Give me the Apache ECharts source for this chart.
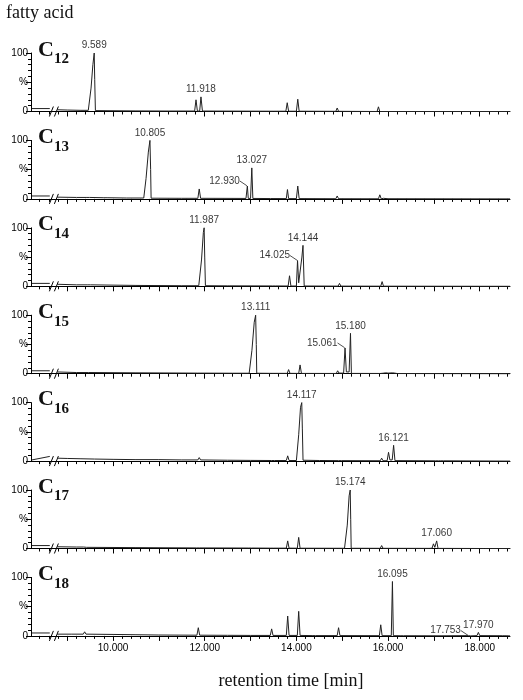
<!DOCTYPE html>
<html>
<head>
<meta charset="utf-8">
<title>fatty acid</title>
<script src="https://cdn.jsdelivr.net/npm/echarts@6/dist/echarts.min.js"></script>
<style>
    html, body { margin: 0; padding: 0; background: #fff; }
    #main { width: 523px; height: 700px; }
</style>
</head>
<body>
<div id="main"></div>
<script>
//色谱数据 [保留时间 min, 强度 %]，null = 断轴处
var c12 = [[8.23,5],[8.62,5],[8.70,null],[8.78,3],[9.0,2.5],[9.3,2],[9.46,2],[9.52,40],[9.56,80],[9.589,100],[9.60,55],[9.615,1.5],
    [10.5,1],[11.2,0.8],[11.78,0.8],[11.81,20],[11.84,0.8],[11.89,0.8],[11.918,25],[11.95,0.8],[13.44,0.5],[13.47,3],[13.50,0.5],
    [13.77,0.5],[13.80,15],[13.83,0.5],[14.00,0.5],[14.03,21],[14.06,0.5],[14.86,0.3],[14.89,6],[14.92,0.3],[15.76,0],[15.79,8],[15.82,0],[18.66,0]];
var c13 = [[8.23,5],[8.62,5],[8.70,null],[8.78,3],[9.2,2.5],[9.43,2.5],[9.46,5],[9.49,2.5],[9.8,2],[9.84,3.5],[9.87,2],[10.3,1.5],
    [10.67,1.5],[10.72,35],[10.77,80],[10.805,100],[10.82,50],[10.83,1.2],[11.5,1],[11.85,1],[11.88,17],[11.91,1],[12.90,0.8],[12.930,22],
    [12.95,0.8],[13.00,0.8],[13.027,53],[13.05,0.8],[13.43,0.6],[13.46,4],[13.49,0.6],[13.78,0.5],[13.805,16],[13.83,0.5],[14.00,0.5],
    [14.03,22],[14.06,0.5],[14.86,0.3],[14.89,5],[14.92,0.3],[15.79,0.2],[15.82,7],[15.85,0.2],[15.9,1],[16.0,0.3],[18.66,0]];
var c14 = [[8.23,5],[8.62,5],[8.70,null],[8.78,3.5],[9.2,2.5],[9.45,2.5],[9.48,4],[9.51,2.5],[10.5,1.5],[11.5,1],[11.87,1],[11.93,45],
    [11.97,92],[11.987,100],[12.0,50],[12.015,1],[12.49,0.8],[12.52,2.5],[12.55,0.8],[13.48,0.6],[13.51,4],[13.54,0.6],[13.82,0.5],
    [13.85,18],[13.88,0.5],[14.00,0.5],[14.025,44],[14.05,6],[14.07,5],[14.12,50],[14.144,70],[14.17,0.5],[14.91,0.3],[14.94,5],
    [14.97,0.3],[15.84,0.2],[15.87,8],[15.90,0.2],[18.66,0]];
var c15 = [[8.23,5],[8.62,5],[8.70,null],[8.78,3],[9.2,2],[9.41,2],[9.44,3.5],[9.47,2],[10.5,1.5],[11.84,1],[11.87,3.5],[11.90,1],
    [12.6,0.8],[12.97,0.8],[13.03,40],[13.08,88],[13.111,100],[13.125,50],[13.135,0.8],[13.46,0.6],[13.49,2.5],[13.52,0.6],[13.80,0.6],
    [13.83,7],[13.86,0.6],[14.05,0.5],[14.08,15],[14.11,0.5],[14.87,0.4],[14.90,5],[14.93,1],[15.03,1],[15.061,44],[15.09,3],[15.15,3],
    [15.180,69],[15.20,0.5],[15.83,0.4],[15.86,3.5],[15.89,0.8],[15.95,1.5],[16.0,1],[16.1,1.5],[16.2,0.3],[18.66,0]];
var c16 = [[8.23,2],[8.62,8],[8.70,null],[8.78,5],[9.0,4.5],[9.3,4],[9.6,3.5],[10.0,3],[10.5,2.5],[11.0,2.5],[11.5,2],[11.85,2],[11.88,6],
    [11.91,2],[12.5,1.5],[13.0,1.2],[13.46,1],[13.49,3],[13.52,1],[13.78,1],[13.81,9],[13.84,1],[14.00,1],[14.05,45],[14.09,92],
    [14.117,100],[14.13,55],[14.145,1.5],[14.5,1],[14.92,0.8],[14.95,2],[14.98,0.8],[15.83,0.6],[15.86,5],[15.89,0.6],[15.98,0.6],
    [16.01,15],[16.04,2],[16.09,2],[16.121,27],[16.15,0.8],[17.04,0.5],[17.07,2.5],[17.10,0.5],[17.15,0.5],[17.18,2.5],[17.21,0.5],[18.66,0]];
var c17 = [[8.23,5],[8.62,5],[8.70,null],[8.78,3],[9.2,2.5],[9.36,2.5],[9.39,4],[9.42,2],[10.5,1.5],[11.82,1],[11.85,3.5],[11.88,1],
    [12.96,0.8],[12.99,2],[13.02,0.8],[13.44,0.6],[13.47,3],[13.50,0.6],[13.78,0.6],[13.81,13],[13.84,0.6],[14.02,0.5],[14.05,19],
    [14.08,0.5],[14.90,0.4],[14.93,3],[14.96,0.4],[15.05,0.4],[15.11,40],[15.15,90],[15.174,100],[15.185,50],[15.195,0.4],[15.83,0.3],
    [15.86,5],[15.89,0.3],[16.9,0.2],[16.93,2],[16.96,0.5],[16.99,8],[17.02,2],[17.060,13],[17.09,0.2],[18.10,0],[18.13,2],[18.16,0],[18.66,0]];
var c18 = [[8.23,5],[8.62,5],[8.70,null],[8.78,3],[9.1,3],[9.35,3],[9.38,7],[9.41,3],[10.0,2.5],[10.5,2],[11.0,1.5],[11.83,1.2],
    [11.86,14],[11.89,1.2],[12.5,1],[13.0,0.8],[13.43,0.8],[13.46,12],[13.49,0.8],[13.78,0.8],[13.81,34],[13.84,0.8],[14.02,0.8],
    [14.05,42],[14.08,0.8],[14.36,0.5],[14.39,2],[14.42,0.5],[14.89,0.5],[14.92,14],[14.95,0.5],[15.81,0.4],[15.84,19],[15.87,0.4],
    [16.07,0.4],[16.095,93],[16.115,0.4],[16.28,0.3],[16.31,3],[16.34,0.3],[17.2,0.2],[17.753,0.5],[17.80,0],[17.94,0.5],[17.970,6],
    [18.00,0.5],[18.49,0.3],[18.52,3],[18.55,0.3],[18.66,0]];

//标注的峰 [保留时间, 高度]
var c12Peaks = [[9.589,100],[11.918,25]]
    , c13Peaks = [[10.805,100],[13.027,53]]
    , c14Peaks = [[11.987,100],[14.144,70]]
    , c15Peaks = [[13.111,100],[15.180,69]]
    , c16Peaks = [[14.117,100],[16.121,27]]
    , c17Peaks = [[15.174,100],[17.060,13]]
    , c18Peaks = [[16.095,93],[17.970,6]];
//带引线的峰
var c13Leader = [[12.930,22]]
    , c14Leader = [[14.025,44]]
    , c15Leader = [[15.061,44]]
    , c18Leader = [[17.753,0.5]];

var panelNames = ['12', '13', '14', '15', '16', '17', '18'];
var xLabelValues = [10, 12, 14, 16, 18];
var yTickValues = [0, 50, 100]
    , yTickText = ['0', '%', '100'];

var panels = [
    { name: panelNames[0], trace: c12, peaks: c12Peaks, leader: [] },
    { name: panelNames[1], trace: c13, peaks: c13Peaks, leader: c13Leader },
    { name: panelNames[2], trace: c14, peaks: c14Peaks, leader: c14Leader },
    { name: panelNames[3], trace: c15, peaks: c15Peaks, leader: c15Leader },
    { name: panelNames[4], trace: c16, peaks: c16Peaks, leader: [] },
    { name: panelNames[5], trace: c17, peaks: c17Peaks, leader: [] },
    { name: panelNames[6], trace: c18, peaks: c18Peaks, leader: c18Leader }
];

var xMin = 8.21, xMax = 18.66, breakAt = 8.72;
var majorTicks = [], minorTicks = [];
for (var k = 9; k <= 18; k++) majorTicks.push(k);
for (var m = 42; m <= 93; m++) { if (m % 5 !== 0) minorTicks.push(m / 5); }

var serif = '"Liberation Serif", "Times New Roman", serif'
    , sans = '"Liberation Sans", Arial, sans-serif';

var gridTop0 = 53, gridStep = 87.4, gridH = 58.5;
var grids = [], xAxes = [], yAxes = [], series = [], titles = [];

titles.push({ text: 'fatty acid', left: 6, top: 4, padding: 0,
    textStyle: { fontFamily: serif, fontSize: 18, fontWeight: 'normal', color: '#111' } });
titles.push({ text: 'retention time [min]', left: 291, top: 672, padding: 0, textAlign: 'center',
    textStyle: { fontFamily: serif, fontSize: 18, fontWeight: 'normal', color: '#111' } });

panels.forEach(function (p, i) {
    var top = gridTop0 + gridStep * i
        , last = i === panels.length - 1;
    grids.push({ left: 31, right: 13, top: top, height: gridH });

    //主刻度 + 底部标签
    xAxes.push({
        type: 'value', gridIndex: i, min: xMin, max: xMax, position: 'bottom',
        axisLine: { show: true, onZero: false, lineStyle: { color: '#000', width: 1 } },
        axisTick: { show: true, customValues: majorTicks, length: 5, lineStyle: { color: '#000' } },
        axisLabel: {
            show: last, customValues: xLabelValues, margin: 7,
            fontFamily: sans, fontSize: 10, color: '#000',
            formatter: function (v) { return v.toFixed(3); }
        },
        splitLine: { show: false }
    });
    //次刻度
    xAxes.push({
        type: 'value', gridIndex: i, min: xMin, max: xMax, position: 'bottom',
        axisLine: { show: false, onZero: false },
        axisTick: { show: true, customValues: minorTicks, length: 3, lineStyle: { color: '#000' } },
        axisLabel: { show: false },
        splitLine: { show: false }
    });
    yAxes.push({
        type: 'value', gridIndex: i, min: 0, max: 100, interval: 50,
        axisLine: { show: true, lineStyle: { color: '#000', width: 1 } },
        axisTick: { show: true, length: 5, lineStyle: { color: '#000' } },
        minorTick: { show: true, splitNumber: 5, length: 3, lineStyle: { color: '#000' } },
        axisLabel: {
            margin: 3, fontFamily: sans, fontSize: 10, color: '#000',
            formatter: function (v) { var idx = yTickValues.indexOf(v); return idx < 0 ? '' : yTickText[idx]; }
        },
        splitLine: { show: false }
    });

    //C12 等标题，下标下沉
    titles.push({
        text: '{c|C}{s|' + p.name + '}', left: 38, top: top - 14, padding: 0,
        textStyle: {
            rich: {
                c: { fontFamily: serif, fontSize: 22, fontWeight: 'bold', color: '#111', lineHeight: 22, verticalAlign: 'top' },
                s: { fontFamily: serif, fontSize: 15, fontWeight: 'bold', color: '#111', lineHeight: 28, verticalAlign: 'bottom' }
            }
        }
    });

    series.push({
        type: 'line', xAxisIndex: 2 * i, yAxisIndex: i, data: p.trace,
        symbol: 'none', clip: false, connectNulls: false, animation: false,
        lineStyle: { color: '#222', width: 1 }
    });
    series.push({
        type: 'scatter', xAxisIndex: 2 * i, yAxisIndex: i, data: p.peaks,
        symbolSize: 1, itemStyle: { color: 'rgba(0,0,0,0)' }, animation: false, silent: true,
        label: {
            show: true, position: 'top', distance: 2,
            fontFamily: sans, fontSize: 10, color: '#000',
            formatter: function (d) { return d.value[0].toFixed(3); }
        }
    });
    if (p.leader.length) {
        series.push({
            type: 'scatter', xAxisIndex: 2 * i, yAxisIndex: i, data: p.leader,
            symbolSize: 1, itemStyle: { color: 'rgba(0,0,0,0)' }, animation: false, silent: true,
            label: {
                show: true, position: 'left', distance: 7,
                fontFamily: sans, fontSize: 10, color: '#000',
                formatter: function (d) { return d.value[0].toFixed(3); }
            },
            labelLayout: { dy: -5 },
            labelLine: { show: true, lineStyle: { color: '#222', width: 0.8 } }
        });
    }
});

var chart = echarts.init(document.getElementById('main'));
chart.setOption({
    backgroundColor: '#fff',
    animation: false,
    title: titles,
    grid: grids,
    xAxis: xAxes,
    yAxis: yAxes,
    series: series
});

//断轴符号 //
var marks = [];
panels.forEach(function (p, i) {
    var pt = chart.convertToPixel({ xAxisIndex: 2 * i, yAxisIndex: i }, [breakAt, 0]);
    [-3, 2].forEach(function (off) {
        marks.push({
            type: 'line', silent: true,
            shape: { x1: pt[0] + off - 2, y1: pt[1] + 5, x2: pt[0] + off + 2, y2: pt[1] - 5 },
            style: { stroke: '#000', lineWidth: 1 }
        });
    });
});
chart.setOption({ graphic: marks });
</script>
</body>
</html>
